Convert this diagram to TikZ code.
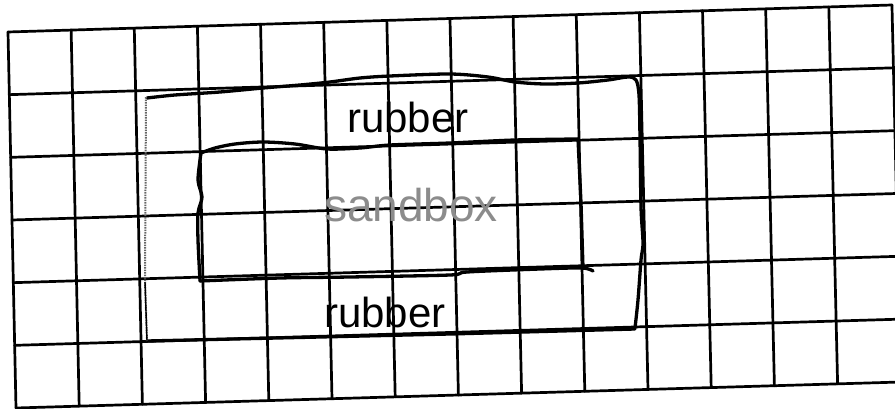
\documentclass[tikz,border=0pt]{standalone}
\usepackage{fontspec}
\newfontfamily\handfont{Liberation Sans}
\begin{document}
\begin{tikzpicture}[x=1pt,y=-1pt,
  gridline/.style={line width=2.7pt, black, line cap=round},
  handline/.style={line width=3.3pt, black, line cap=round, line join=round},
  pencil/.style={line width=2pt, black!60, dash pattern=on 1.5pt off 1pt},
  handtext/.style={font=\handfont\fontsize{42}{48}\selectfont, inner sep=0pt, anchor=base}]
\useasboundingbox (0,0) rectangle (895,409);
\fill[white] (0,0) rectangle (895,409);
\clip (0,0) rectangle (895,409);
% grid paper
\foreach \i in {0,...,14} {
  \pgfmathsetmacro\xt{8+63.14*\i}
  \pgfmathsetmacro\yt{32-27*\i/14}
  \pgfmathsetmacro\xb{16+63.2*\i}
  \pgfmathsetmacro\yb{408-26*\i/14}
  \draw[gridline] (\xt,\yt) -- (\xb,\yb);
}
\foreach \j in {0,...,6} {
  \pgfmathsetmacro\xl{8+8*\j/6}
  \pgfmathsetmacro\yl{32+376*\j/6}
  \pgfmathsetmacro\xr{892+9*\j/6}
  \pgfmathsetmacro\yr{5+377*\j/6}
  \draw[gridline] (\xl,\yl) -- (\xr,\yr);
}
% outer rectangle (top, right, bottom in ink)
\draw[handline] plot[smooth, tension=0.5] coordinates {(147,98) (175,95) (220,92) (263,88) (300,85) (330,82) (360,78) (390,76) (450,74) (488,77) (515,82) (545,84) (578,83) (608,80) (628,77) (636,80) (639,95) (640,137) (641,207) (643,243) (641,260) (638,300) (635,328)};
\draw[handline] (635,329) -- (450,334) -- (147,341);
% outer rectangle left side in pencil
\draw[pencil] (147,341) -- (145,280) -- (146,97);
\draw[line width=1.4pt, black] (147,341) -- (145,282);
% inner sandbox rectangle
\draw[handline] plot[smooth, tension=0.5] coordinates {(201,153) (215,148) (235,144) (263,142) (295,144) (327,149) (360,148) (390,145) (450,143) (515,140) (578,139)};
\draw[handline] (578,139) -- (581,203) -- (583,268);
\draw[handline] plot[smooth, tension=0.5] coordinates {(593,271) (582,268) (540,269) (467,272) (450,275) (350,277) (280,278) (200,281)};
\draw[handline] plot[smooth, tension=0.5] coordinates {(200,281) (198,240) (198,213) (202,197) (198,180) (201,153)};
% labels
\node[handtext] (rubbertop) at (408,133) {rubber};
\node[handtext, text=black!45, font=\handfont\fontsize{46}{50}\selectfont] (sandbox) at (411,222) {sandbox};
\node[handtext] (rubberbottom) at (385,327) {rubber};
\end{tikzpicture}
\end{document}
